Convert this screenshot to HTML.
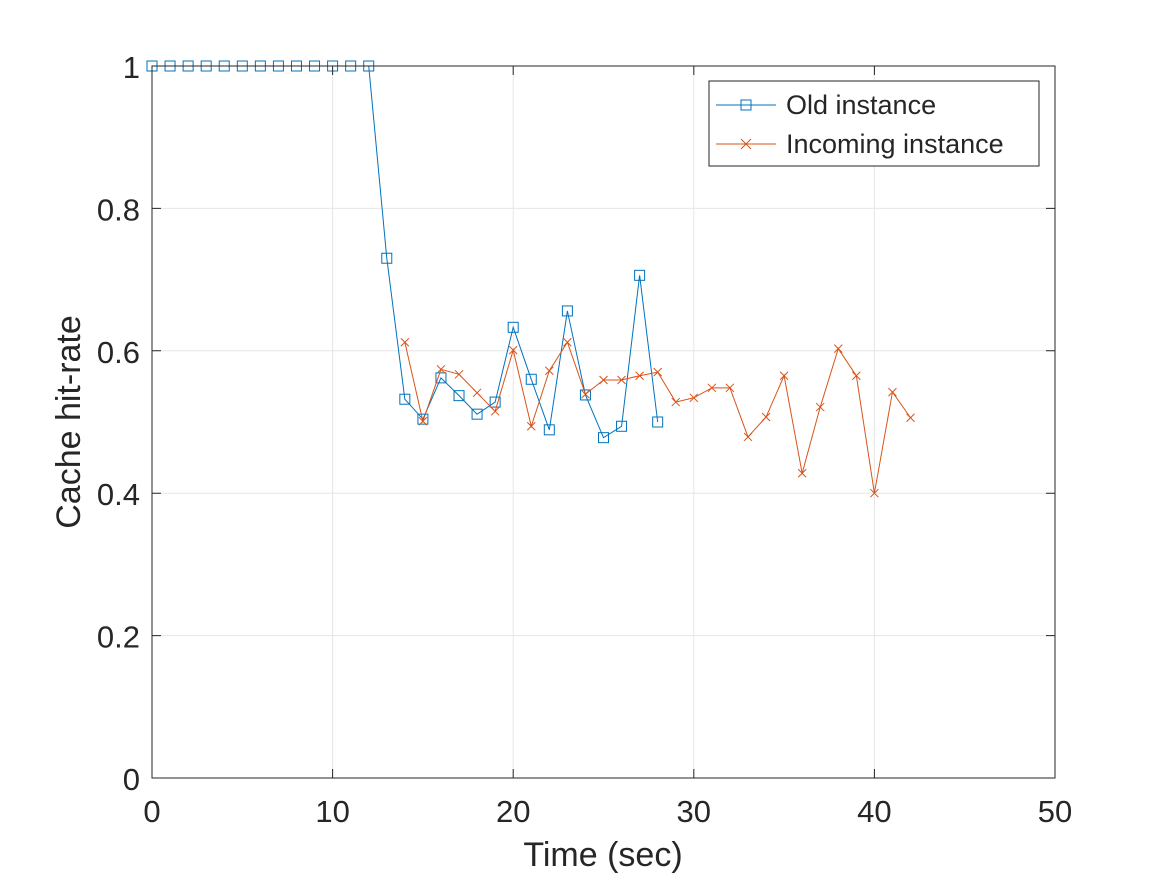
<!DOCTYPE html>
<html><head><meta charset="utf-8"><style>
body{margin:0;background:#fff}
svg text{font-family:"Liberation Sans",Arial,sans-serif;fill:#262626}
</style></head><body>
<svg id="chart" width="1167" height="875" xmlns="http://www.w3.org/2000/svg">
<rect width="1167" height="875" fill="#fff"/>
<g id="grid"></g>
<g id="series"></g>
<g id="axes"></g>
<text x="603" y="866" font-size="34" text-anchor="middle">Time (sec)</text>
<text transform="translate(80,422) rotate(-90)" font-size="34" text-anchor="middle">Cache hit-rate</text>
<g>
<rect x="709" y="81" width="330" height="85" fill="#fff" stroke="#262626" stroke-width="1"/>
<g>
<line x1="716" y1="105" x2="776" y2="105" stroke="#0072BD" stroke-width="1"/>
<rect x="741" y="100" width="10" height="10" fill="none" stroke="#0072BD"/>
<text x="786" y="114" font-size="27">Old instance</text></g>
<g>
<line x1="716" y1="144" x2="776" y2="144" stroke="#D95319" stroke-width="1"/>
<path d="M741 139 L751 149 M751 139 L741 149" stroke="#D95319"/>
<text x="786" y="153" font-size="27">Incoming instance</text></g>
</g>
</svg>
<script>
const oldTimes=[0,1,2,3,4,5,6,7,8,9,10,11,12,13,14,15,16,17,18,19,20,21,22,23,24,25,26,27,28];
const oldValues=[1,1,1,1,1,1,1,1,1,1,1,1,1,0.730,0.532,0.504,0.562,0.537,0.511,0.528,0.633,0.560,0.489,0.656,0.538,0.478,0.494,0.706,0.500];
const incTimes=[14,15,16,17,18,19,20,21,22,23,24,25,26,27,28,29,30,31,32,33,34,35,36,37,38,39,40,41,42];
const incValues=[0.612,0.501,0.574,0.567,0.541,0.515,0.601,0.494,0.572,0.612,0.539,0.559,0.559,0.565,0.570,0.528,0.534,0.548,0.548,0.479,0.507,0.565,0.428,0.521,0.603,0.565,0.400,0.542,0.506];
const xTicks=[0,10,20,30,40,50];
const yTicks=[0,0.2,0.4,0.6,0.8,1];
const yTickLabels=["0","0.2","0.4","0.6","0.8","1"];
const L=152,R=1055,T=66,B=778;
const xs=v=>L+(v-0)/50*(R-L);
const ys=v=>B-(v-0)/1*(B-T);
const NS="http://www.w3.org/2000/svg";
function mk(tag,attrs,parent){const e=document.createElementNS(NS,tag);for(const k in attrs)e.setAttribute(k,attrs[k]);parent.appendChild(e);return e;}
const grid=document.getElementById('grid'),axes=document.getElementById('axes'),series=document.getElementById('series');
xTicks.forEach((t,i)=>{const x=xs(t);
 const g=mk('line',{x1:x,x2:x,y1:T,y2:B,stroke:'#e6e6e6','stroke-width':1},grid);
 
 const a=mk('path',{d:`M${x} ${B} V${B-9} M${x} ${T} V${T+9}`,stroke:'#262626','stroke-width':1},axes);
 
 const tx=mk('text',{x:x,y:B+44,'font-size':31,'text-anchor':'middle'},axes);tx.textContent=String(t);
 
});
yTicks.forEach((t,i)=>{const y=ys(t);
 const g=mk('line',{x1:L,x2:R,y1:y,y2:y,stroke:'#e6e6e6','stroke-width':1},grid);
 
 const a=mk('path',{d:`M${L} ${y} H${L+9} M${R} ${y} H${R-9}`,stroke:'#262626','stroke-width':1},axes);
 
 const tx=mk('text',{x:L-12,y:y+12,'font-size':31,'text-anchor':'end'},axes);tx.textContent=yTickLabels[i];
 
});
const box=mk('rect',{x:L,y:T,width:R-L,height:B-T,fill:'none',stroke:'#262626','stroke-width':1},axes);

function draw(times,vals,color,marker,name){
 const pts=times.map((t,i)=>xs(t)+','+ys(vals[i])).join(' ');
 const pl=mk('polyline',{points:pts,fill:'none',stroke:color,'stroke-width':1},series);
 
 times.forEach((t,i)=>{const x=xs(t),y=ys(vals[i]);let m;
  if(marker==='sq')m=mk('rect',{x:x-5,y:y-5,width:10,height:10,fill:'none',stroke:color},series);
  else m=mk('path',{d:`M${x-4} ${y-4} L${x+4} ${y+4} M${x+4} ${y-4} L${x-4} ${y+4}`,stroke:color},series);
  });
}
draw(oldTimes,oldValues,'#0072BD','sq','old-instance');
draw(incTimes,incValues,'#D95319','x','incoming-instance');
</script>
</body></html>
